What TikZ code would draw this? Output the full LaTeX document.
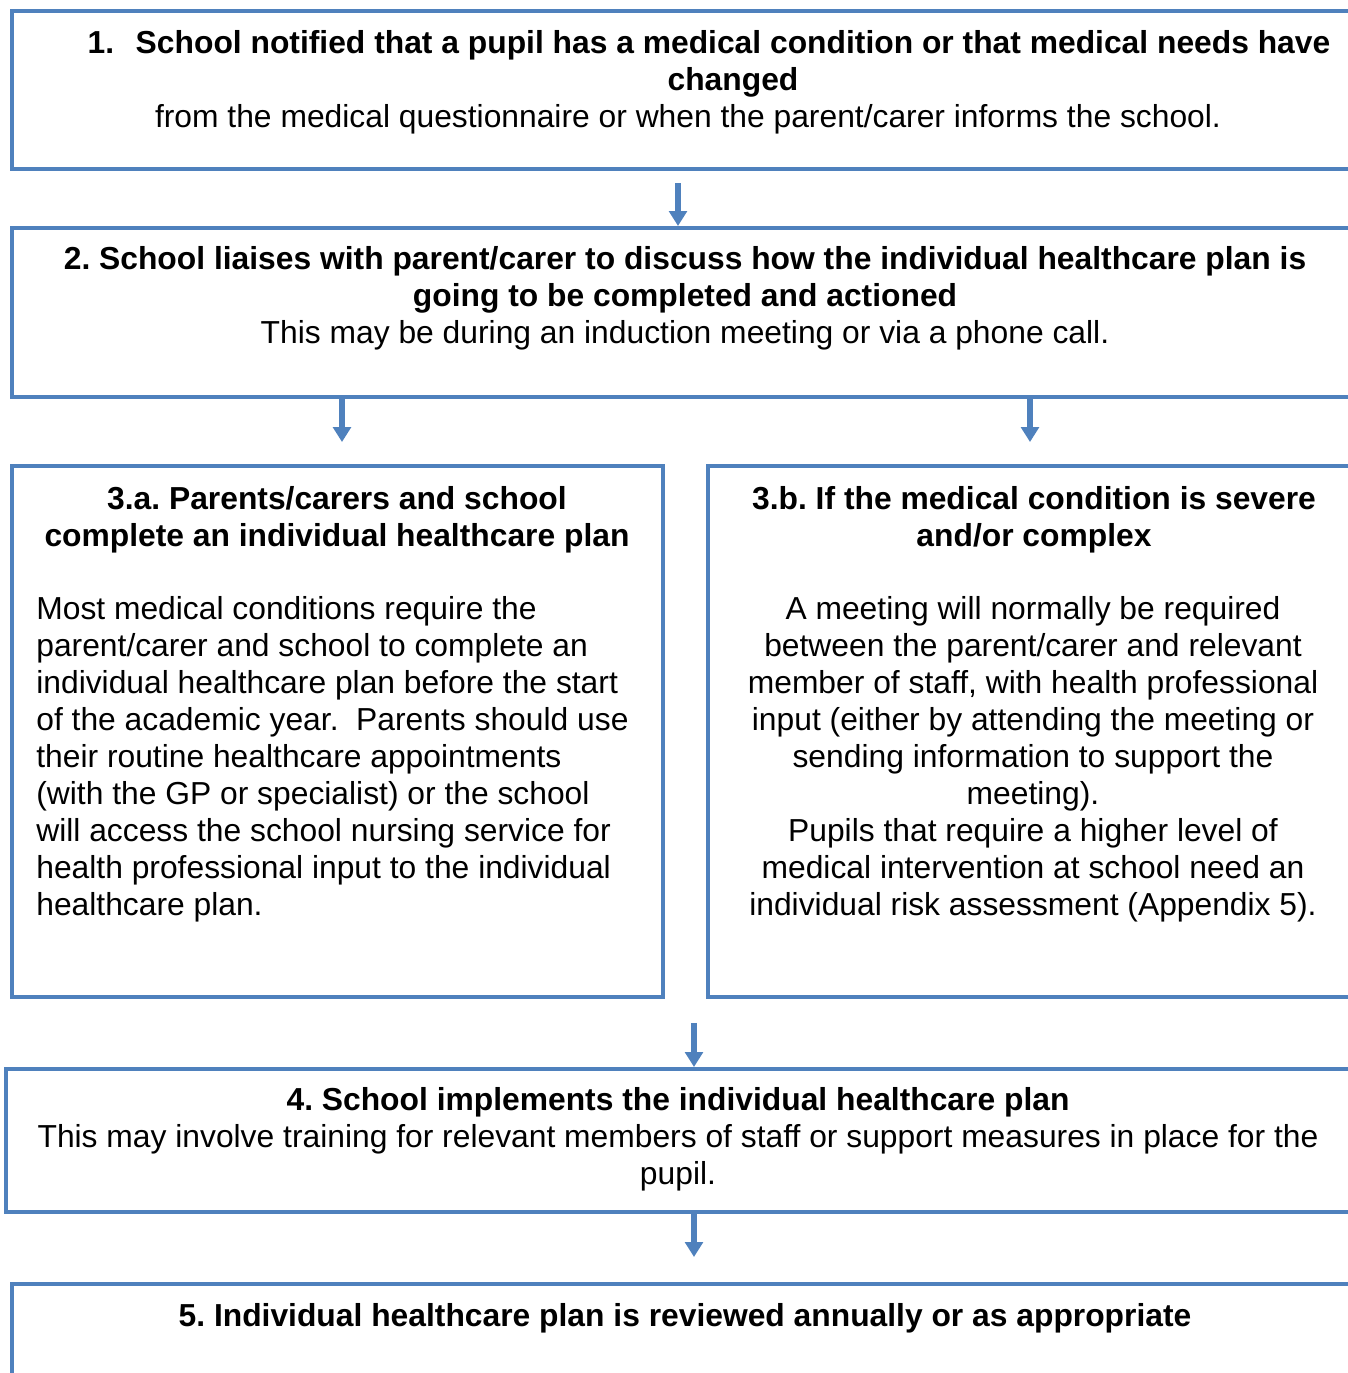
\documentclass[tikz,border=0pt]{standalone}
\usepackage{fontspec}
\setmainfont{Liberation Sans}
\usetikzlibrary{arrows.meta}
\definecolor{planblue}{RGB}{79,129,189}
\frenchspacing

\begin{document}
\begin{tikzpicture}[x=0.02cm,y=-0.02cm,
        box/.style={draw=planblue,line width=2.3pt,inner sep=0pt},
        txt/.style={inner sep=0pt,anchor=base,align=center,font=\fontsize{18.1}{21}\selectfont},
        flowarrow/.style={draw=planblue,line width=3.5pt,-{Triangle[width=10pt,length=8.5pt]}}]
        \useasboundingbox (0,0) rectangle (1348,1373);
        \clip (0,0) rectangle (1348,1373);

        \node[box,minimum width=26.92cm,minimum height=3.16cm] (box1) at (685,90) {};
        \node[box,minimum width=26.92cm,minimum height=3.38cm] (box2) at (685,312.5) {};
        \node[box,minimum width=13.02cm,minimum height=10.62cm] (box3a) at (337.5,731.5) {};
        \node[box,minimum width=13.00cm,minimum height=10.62cm] (box3b) at (1033,731.5) {};
        \node[box,minimum width=27.04cm,minimum height=2.86cm] (box4) at (682,1140.5) {};
        \node[box,minimum width=26.92cm,minimum height=2.32cm] (box5) at (685,1342) {};

        \node[txt,font=\fontsize{18.1}{21}\selectfont\bfseries] (head1) at (733,90)
            {\makebox[0pt][r]{1.\hspace{0.68em}}School notified that a pupil has a medical condition or that medical needs have\\changed};
        \node[txt] (note1) at (688,127)
            {from the medical questionnaire or when the parent/carer informs the school.};

        \node[txt] (head2) at (685,343)
            {\textbf{2. School liaises with parent/carer to discuss how the individual healthcare plan is}\\
             \textbf{going to be completed and actioned}\\
             This may be during an induction meeting or via a phone call.};

        \node[txt,font=\fontsize{18.1}{21}\selectfont\bfseries] (head3a) at (337,546)
            {3.a. Parents/carers and school\\complete an individual healthcare plan};
        \node[txt,anchor=base west,align=left] (note3a) at (36,915)
            {Most medical conditions require the\\
             parent/carer and school to complete an\\
             individual healthcare plan before the start\\
             of the academic year.~ Parents should use\\
             their routine healthcare appointments\\
             (with the GP or specialist) or the school\\
             will access the school nursing service for\\
             health professional input to the individual\\
             healthcare plan.};

        \node[txt,font=\fontsize{18.1}{21}\selectfont\bfseries] (head3b) at (1034,546)
            {3.b. If the medical condition is severe\\and/or complex};
        \node[txt] (note3b) at (1033,915)
            {A meeting will normally be required\\
             between the parent/carer and relevant\\
             member of staff, with health professional\\
             input (either by attending the meeting or\\
             sending information to support the\\
             meeting).\\
             Pupils that require a higher level of\\
             medical intervention at school need an\\
             individual risk assessment (Appendix 5).};

        \node[txt] (head4) at (678,1184)
            {\textbf{4. School implements the individual healthcare plan}\\
             This may involve training for relevant members of staff or support measures in place for the\\
             pupil.};

        \node[txt,font=\fontsize{18.1}{21}\selectfont\bfseries] (head5) at (685,1326)
            {5. Individual healthcare plan is reviewed annually or as appropriate};

        \coordinate (tip1) at ([xshift=-0.14cm]box2.north);
        \coordinate (tip2) at ([xshift=0.09cm,yshift=0.44cm]box3a.north);
        \coordinate (tip3) at ([xshift=-0.06cm,yshift=0.44cm]box3b.north);
        \coordinate (tip4) at ([xshift=0.24cm]box4.north);
        \coordinate (tip5) at ([xshift=0.18cm,yshift=0.5cm]box5.north);

        \draw[flowarrow] ([yshift=-0.24cm]box1.south -| tip1) -- (tip1);
        \draw[flowarrow] (box2.south -| tip2) -- (tip2);
        \draw[flowarrow] (box2.south -| tip3) -- (tip3);
        \draw[flowarrow] ([yshift=-0.48cm]box3a.south -| tip4) -- (tip4);
        \draw[flowarrow] (box4.south -| tip5) -- (tip5);
\end{tikzpicture}
\end{document}
